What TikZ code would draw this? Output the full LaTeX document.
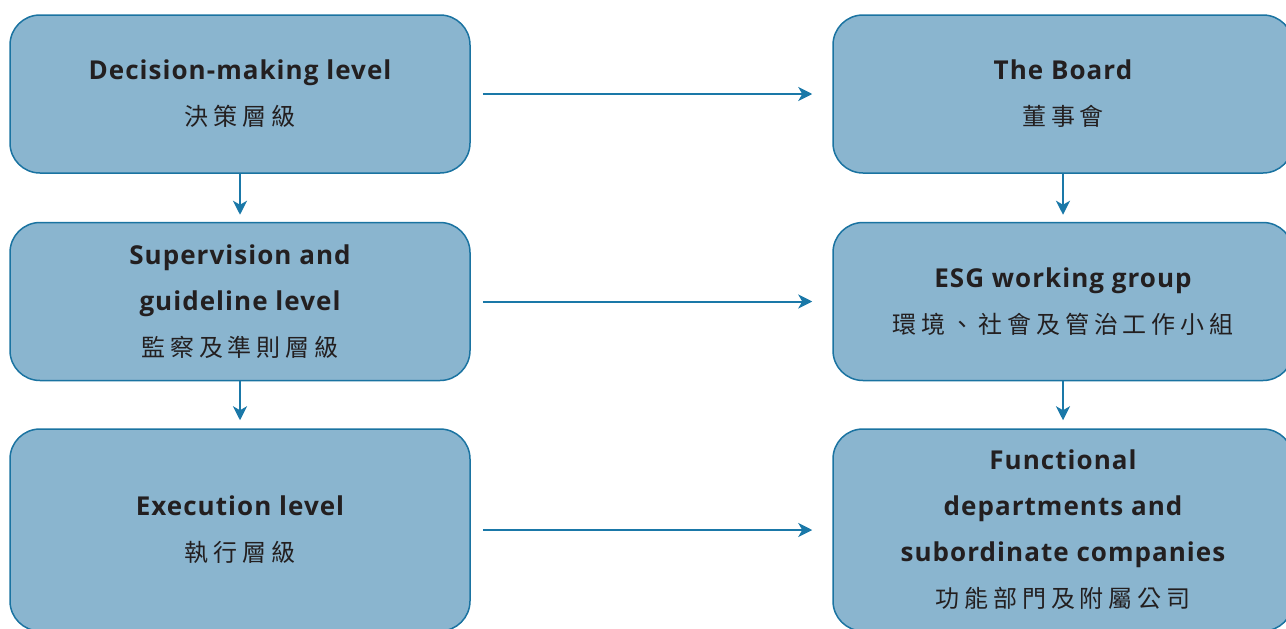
\documentclass[tikz,border=0pt]{standalone}
\usepackage{fontspec}
\setmainfont[LetterSpace=4]{Open Sans}
\newfontfamily\cjk[LetterSpace=20]{Noto Sans CJK TC}
\usepackage{tikz}
\usetikzlibrary{calc,positioning,arrows.meta}
\definecolor{boxfill}{HTML}{8AB5CF}
\definecolor{boxline}{HTML}{1A73A1}
\definecolor{arrowblue}{HTML}{1A78A8}
\definecolor{textdark}{HTML}{231F20}
\tikzset{
	level/.style={shape=rectangle,draw=boxline,line width=1.5pt,fill=boxfill,rounded corners=30pt,
		minimum width=460pt,minimum height=158pt,align=center,text=textdark,
		font=\fontsize{26}{46}\selectfont\bfseries,inner sep=0pt},
	link/.style={draw=arrowblue,line width=2pt,-{Stealth[length=14pt,width=14pt,inset=4pt]}},
}
\newcommand{\zh}[1]{{\cjk\fontsize{24}{46}\selectfont\mdseries #1}}
\begin{document}
\begin{tikzpicture}[x=1pt,y=-1pt]
		\useasboundingbox (0,0) rectangle (1286,629);
		% left column
		\node(dec) [level] at (240,94) {Decision-making level\\\zh{決策層級}};
		\node(sup) [level,below=48pt of dec] {Supervision and\\guideline level\\\zh{監察及準則層級}};
		\node(exe) [level,below=47pt of sup,minimum height=202pt] {Execution level\\\zh{執行層級}};
		% right column
		\node(board) [level] at (1063,94) {The Board\\\zh{董事會}};
		\node(esg) [level,below=48pt of board] {ESG working group\\\zh{環境、社會及管治工作小組}};
		\node(func) [level,below=47pt of esg,minimum height=202pt] {Functional\\departments and\\subordinate companies\\\zh{功能部門及附屬公司}};
		% arrows
		\draw [link] ($(dec.east)+(12,0)$) -- ($(board.west)+(-20,0)$);
		\draw [link] ($(sup.east)+(12,0)$) -- ($(esg.west)+(-20,0)$);
		\draw [link] ($(exe.east)+(12,0)$) -- ($(func.west)+(-20,0)$);
		\draw [link] (dec) -- ($(sup.north)+(0,-7)$);
		\draw [link] (sup) -- ($(exe.north)+(0,-8)$);
		\draw [link] (board) -- ($(esg.north)+(0,-7)$);
		\draw [link] (esg) -- ($(func.north)+(0,-8)$);
	\end{tikzpicture}
\end{document}
